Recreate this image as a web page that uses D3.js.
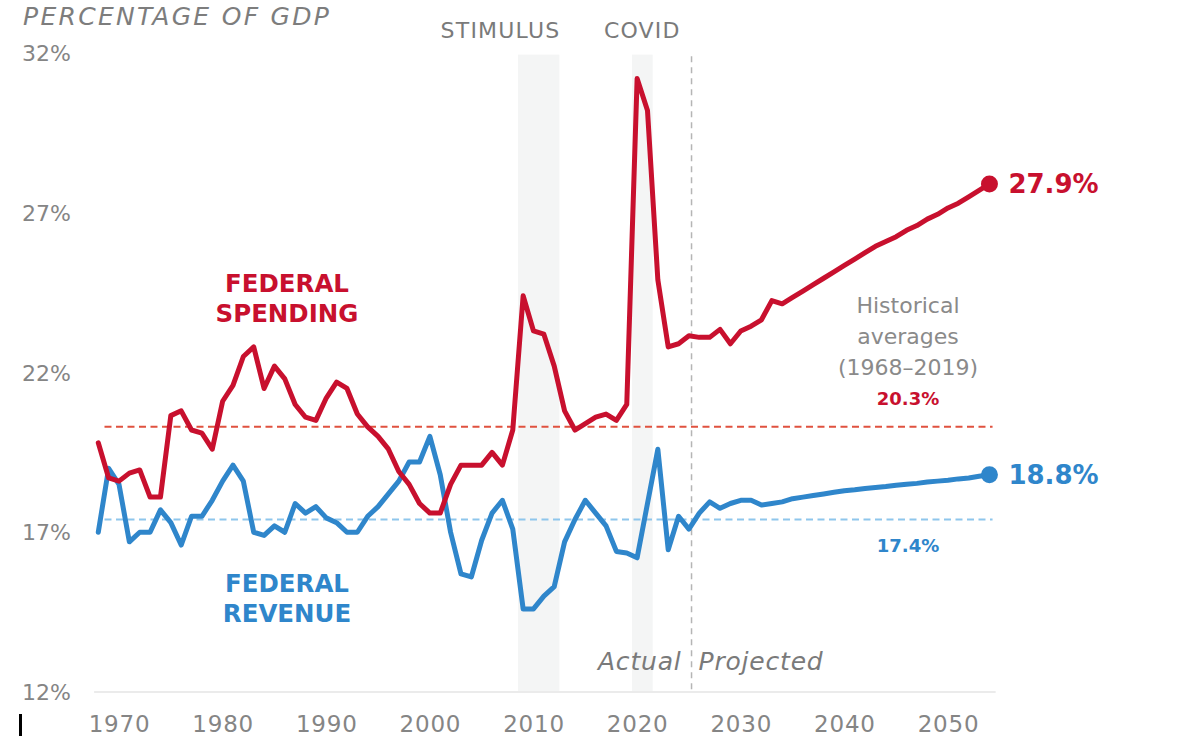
<!DOCTYPE html>
<html>
<head>
<meta charset="utf-8">
<script src="https://cdn.jsdelivr.net/npm/d3@7"></script>
<style>
  html, body { margin: 0; padding: 0; background: #ffffff; }
  svg { display: block; font-family: "DejaVu Sans", sans-serif; }
</style>
</head>
<body>
<svg id="chart" width="1200" height="738"></svg>
<script>
// ---- data ----
const years = d3.range(1968, 2055);
const spending = [
  19.8, 18.7, 18.6, 18.85, 18.95, 18.1, 18.1, 20.65, 20.8, 20.2,
  20.1, 19.6, 21.1, 21.6, 22.5, 22.8, 21.5, 22.2, 21.8, 21.0,
  20.6, 20.5, 21.2, 21.7, 21.5, 20.7, 20.3, 20.0, 19.6, 18.9,
  18.5, 17.9, 17.6, 17.6, 18.5, 19.1, 19.1, 19.1, 19.5, 19.1,
  20.2, 24.4, 23.3, 23.2, 22.2, 20.8, 20.2, 20.4, 20.6, 20.7,
  20.5, 21.0, 31.2, 30.2, 24.9, 22.8, 22.9, 23.15, 23.1, 23.1,
  23.35, 22.9, 23.3, 23.45, 23.65, 24.25, 24.15, 24.35, 24.55, 24.75,
  24.95, 25.15, 25.35, 25.55, 25.75, 25.95, 26.1, 26.25, 26.45, 26.6,
  26.8, 26.95, 27.15, 27.3, 27.5, 27.7, 27.9
];
const revenue = [
  17.0, 19.0, 18.5, 16.7, 17.0, 17.0, 17.7, 17.3, 16.6, 17.5,
  17.5, 18.0, 18.6, 19.1, 18.6, 17.0, 16.9, 17.2, 17.0, 17.9,
  17.6, 17.8, 17.45, 17.3, 17.0, 17.0, 17.5, 17.8, 18.2, 18.6,
  19.2, 19.2, 20.0, 18.8, 17.0, 15.7, 15.6, 16.75, 17.6, 18.0,
  17.1, 14.6, 14.6, 15.0, 15.3, 16.7, 17.4, 18.0, 17.6, 17.2,
  16.4, 16.35, 16.2, 17.9, 19.6, 16.45, 17.5, 17.1, 17.6, 17.95,
  17.75, 17.9, 18.0, 18.0, 17.85, 17.9, 17.95, 18.05, 18.1, 18.15,
  18.2, 18.25, 18.3, 18.33, 18.37, 18.4, 18.43, 18.47, 18.5, 18.53,
  18.57, 18.6, 18.63, 18.67, 18.7, 18.75, 18.8
];
const yTicks = [12, 17, 22, 27, 32];
const xTicks = [1970, 1980, 1990, 2000, 2010, 2020, 2030, 2040, 2050];
const bandLabels = ["STIMULUS", "COVID"];
const bandStarts = [2008.5, 2019.5];
const bandEnds = [2012.5, 2021.5];
const projectionStart = 2025.25;
const spendingAvg = 20.3;
const revenueAvg = 17.4;
const avgStart = 1968.6;
const avgEnd = 2054.3;
const axisStart = 1967.6;
const axisEnd = 2054.6;

// ---- styles ----
const RED = "#c8102e";
const BLUE = "#2f86cb";
const GRAY = "#7a7a7a";

const svg = d3.select("#chart");
const x = d3.scaleLinear().domain([1970, 2050]).range([119, 948]);
const y = d3.scaleLinear().domain([12, 32]).range([692, 53]);

// black artifact mark at bottom-left
svg.append("rect").attr("x", 19).attr("y", 714).attr("width", 3).attr("height", 22).attr("fill", "#000");

// shaded bands
bandLabels.forEach((lab, i) => {
  svg.append("rect")
    .attr("x", x(bandStarts[i])).attr("y", y(31.95))
    .attr("width", x(bandEnds[i]) - x(bandStarts[i]))
    .attr("height", y(12) - y(31.95))
    .attr("fill", "#f4f5f5");
});
svg.append("text").attr("x", x(bandEnds[0]) + 1).attr("y", 30)
  .attr("text-anchor", "end").attr("dominant-baseline", "central")
  .attr("fill", GRAY).attr("font-size", 22).attr("letter-spacing", 1.2)
  .text(bandLabels[0]);
svg.append("text").attr("x", (x(bandStarts[1]) + x(bandEnds[1])) / 2).attr("y", 30)
  .attr("text-anchor", "middle").attr("dominant-baseline", "central")
  .attr("fill", GRAY).attr("font-size", 22).attr("letter-spacing", 1.2)
  .text(bandLabels[1]);

// baseline axis line
svg.append("line").attr("x1", x(axisStart)).attr("x2", x(axisEnd))
  .attr("y1", y(12)).attr("y2", y(12))
  .attr("stroke", "#ebebeb").attr("stroke-width", 2);

// projection divider
svg.append("line").attr("x1", x(projectionStart)).attr("x2", x(projectionStart))
  .attr("y1", y(31.9)).attr("y2", y(12))
  .attr("stroke", "#b5b5b5").attr("stroke-width", 1.5)
  .attr("stroke-dasharray", "6,5");
svg.append("text").attr("x", x(projectionStart) - 10).attr("y", 661)
  .attr("text-anchor", "end").attr("dominant-baseline", "central")
  .attr("fill", GRAY).attr("font-size", 25).attr("font-style", "italic")
  .attr("letter-spacing", 0.8)
  .text("Actual");
svg.append("text").attr("x", x(projectionStart) + 7).attr("y", 661)
  .attr("text-anchor", "start").attr("dominant-baseline", "central")
  .attr("fill", GRAY).attr("font-size", 25).attr("font-style", "italic")
  .attr("letter-spacing", 0.8)
  .text("Projected");

// average lines
svg.append("line").attr("x1", x(avgStart)).attr("x2", x(avgEnd))
  .attr("y1", y(spendingAvg)).attr("y2", y(spendingAvg))
  .attr("stroke", "#e0523f").attr("stroke-width", 2).attr("stroke-dasharray", "7,4.5");
svg.append("line").attr("x1", x(avgStart)).attr("x2", x(avgEnd))
  .attr("y1", y(revenueAvg)).attr("y2", y(revenueAvg))
  .attr("stroke", "#8ec6ec").attr("stroke-width", 2).attr("stroke-dasharray", "7,4.5");

// y-axis tick labels
const yAxis = d3.axisLeft(y).tickValues(yTicks).tickSize(0).tickPadding(0)
  .tickFormat(d => d + "%");
const yg = svg.append("g").attr("transform", "translate(71,0)").call(yAxis);
yg.select(".domain").remove();
yg.selectAll("text").attr("fill", "#858585").attr("font-size", 22)
  .attr("font-family", "'DejaVu Sans', sans-serif").attr("dy", "0.35em");

// x-axis tick labels
const xAxis = d3.axisBottom(x).tickValues(xTicks).tickSize(0).tickPadding(0)
  .tickFormat(d3.format("d"));
const xg = svg.append("g").attr("transform", "translate(0,0)").call(xAxis);
xg.select(".domain").remove();
xg.selectAll("text").attr("fill", "#858585").attr("font-size", 23)
  .attr("font-family", "'DejaVu Sans', sans-serif")
  .attr("letter-spacing", 0.8)
  .attr("y", 732).attr("dy", 0);

// lines
const line = d3.line().x((d, i) => x(years[i])).y(d => y(d)).curve(d3.curveLinear);
svg.append("path").datum(revenue).attr("d", line)
  .attr("fill", "none").attr("stroke", BLUE).attr("stroke-width", 5)
  .attr("stroke-linejoin", "round").attr("stroke-linecap", "round");
svg.append("path").datum(spending).attr("d", line)
  .attr("fill", "none").attr("stroke", RED).attr("stroke-width", 5)
  .attr("stroke-linejoin", "round").attr("stroke-linecap", "round");

// end dots and labels
const last = years.length - 1;
[[spending, RED], [revenue, BLUE]].forEach(([s, c]) => {
  svg.append("circle").attr("cx", x(years[last])).attr("cy", y(s[last]))
    .attr("r", 8.5).attr("fill", c);
  svg.append("text").attr("x", x(years[last]) + 19).attr("y", y(s[last]))
    .attr("dominant-baseline", "central").attr("fill", c)
    .attr("font-size", 26).attr("font-weight", "bold")
    .text(s[last].toFixed(1) + "%");
});

// series labels
const spLab = svg.append("text").attr("text-anchor", "middle").attr("fill", RED)
  .attr("font-size", 24.5).attr("font-weight", "bold");
spLab.append("tspan").attr("x", 287).attr("y", 292).text("FEDERAL");
spLab.append("tspan").attr("x", 287).attr("y", 322).text("SPENDING");
const rvLab = svg.append("text").attr("text-anchor", "middle").attr("fill", BLUE)
  .attr("font-size", 24.5).attr("font-weight", "bold");
rvLab.append("tspan").attr("x", 287).attr("y", 592).text("FEDERAL");
rvLab.append("tspan").attr("x", 287).attr("y", 622).text("REVENUE");

// historical averages annotation
const hx = 908;
["Historical", "averages", "(1968\u20132019)"].forEach((t, i) => {
  svg.append("text").attr("x", hx).attr("y", 305 + i * 31)
    .attr("text-anchor", "middle").attr("dominant-baseline", "central")
    .attr("fill", "#8a8a8a").attr("font-size", 22).text(t);
});
svg.append("text").attr("x", hx).attr("y", 398)
  .attr("text-anchor", "middle").attr("dominant-baseline", "central")
  .attr("fill", RED).attr("font-size", 18).attr("font-weight", "bold")
  .text(spendingAvg.toFixed(1) + "%");
svg.append("text").attr("x", hx).attr("y", 545)
  .attr("text-anchor", "middle").attr("dominant-baseline", "central")
  .attr("fill", BLUE).attr("font-size", 18).attr("font-weight", "bold")
  .text(revenueAvg.toFixed(1) + "%");

// title
svg.append("text").attr("x", 23).attr("y", 16)
  .attr("dominant-baseline", "central")
  .attr("fill", "#7d7d7d").attr("font-size", 25).attr("font-style", "italic")
  .attr("letter-spacing", 2.3)
  .text("PERCENTAGE OF GDP");
</script>
</body>
</html>
